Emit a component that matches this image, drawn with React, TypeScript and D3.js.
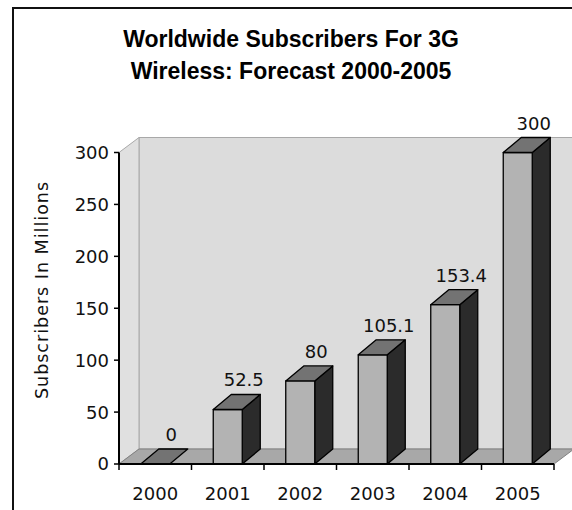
import React from "react";
import * as d3 from "d3";

const years = ["2000", "2001", "2002", "2003", "2004", "2005"];
const subscribers = [0, 52.5, 80, 105.1, 153.4, 300];
const valueLabels = ["0", "52.5", "80", "105.1", "153.4", "300"];
const yTicks = [0, 50, 100, 150, 200, 250, 300];
const titleLines = ["Worldwide Subscribers For 3G", "Wireless: Forecast 2000-2005"];
const yTitle = "Subscribers In Millions";

const W = 572;
const H = 510;

export default function App() {
  const x = d3.scaleBand<string>().domain(years).range([119, 554]).paddingInner(0).paddingOuter(0);
  const y = d3.scaleLinear().domain([0, 300]).range([464, 152.5]);

  // wall depth and bar depth offsets
  const wdx = 20, wdy = -15;
  const bdx = 18, bdy = -15;
  const barW = x.bandwidth() * 0.4;

  const x0 = x.range()[0];
  const x1 = x.range()[1];
  const yb = y(0);
  const yt = y(300);

  const poly = (pts: [number, number][]) => pts.map((p) => p.join(",")).join(" ");

  return (
    <svg width={W} height={H} style={{ position: "absolute", left: 0, top: 0, background: "#fff" }}>
      {/* outer frame */}
      <rect x={13} y={8} width={700} height={700} fill="none" stroke="#111" strokeWidth={2} />

      {/* title */}
      {titleLines.map((t, i) => (
        <text key={t} x={291} y={47 + i * 32} textAnchor="middle"
          fontFamily="Liberation Sans, Arial, sans-serif" fontWeight="bold" fontSize={23} fill="#000">
          {t}
        </text>
      ))}

      {/* back wall */}
      <polygon points={poly([[x0 + wdx, yt + wdy], [W + 10, yt + wdy], [W + 10, yb + wdy], [x0 + wdx, yb + wdy]])}
        fill="#dcdcdc" stroke="#a8a8a8" strokeWidth={1} />
      {/* side wall */}
      <polygon points={poly([[x0, yt], [x0 + wdx, yt + wdy], [x0 + wdx, yb + wdy], [x0, yb]])}
        fill="#e0e0e0" stroke="#a8a8a8" strokeWidth={1} />
      {/* floor */}
      <polygon points={poly([[x0, yb], [x1, yb], [x1 + wdx, yb + wdy], [x0 + wdx, yb + wdy]])}
        fill="#a8a8a8" stroke="#808080" strokeWidth={1} />
      <line x1={x1 + wdx} y1={yb + wdy} x2={W + 10} y2={yb + wdy} stroke="#808080" />

      {/* bars */}
      {years.map((yr, i) => {
        const v = subscribers[i];
        const cx = (x(yr) as number) + x.bandwidth() / 2;
        const l = cx - barW / 2;
        const r = cx + barW / 2;
        const top = y(v);
        return (
          <g key={yr} stroke="#000" strokeWidth={1.3} strokeLinejoin="round">
            {v > 0 && (
              <polygon points={poly([[r, top], [r + bdx, top + bdy], [r + bdx, yb + bdy], [r, yb]])} fill="#2b2b2b" />
            )}
            {v > 0 && <rect x={l} y={top} width={barW} height={yb - top} fill="#b3b3b3" />}
            <polygon points={poly([[l, top], [r, top], [r + bdx, top + bdy], [l + bdx, top + bdy]])} fill="#737373" />
          </g>
        );
      })}

      {/* value labels */}
      {years.map((yr, i) => {
        const cx = (x(yr) as number) + x.bandwidth() / 2;
        return (
          <text key={yr} x={cx + 16} y={y(subscribers[i]) + bdy - 8} textAnchor="middle"
            fontFamily="DejaVu Sans, Verdana, sans-serif" fontSize={18} fill="#111">
            {valueLabels[i]}
          </text>
        );
      })}

      {/* y axis */}
      <line x1={x0} y1={yt} x2={x0} y2={yb} stroke="#000" strokeWidth={2} />
      {yTicks.map((t) => (
        <g key={t}>
          <line x1={x0 - 5} y1={y(t)} x2={x0} y2={y(t)} stroke="#000" strokeWidth={1.5} />
          <text x={109} y={y(t)} dy="0.36em" textAnchor="end"
            fontFamily="DejaVu Sans, Verdana, sans-serif" fontSize={18} fill="#111">
            {t}
          </text>
        </g>
      ))}

      {/* x axis */}
      <line x1={x0} y1={yb} x2={x1} y2={yb} stroke="#000" strokeWidth={2} />
      {years.concat(["end"]).map((yr, i) => {
        const xx = x0 + i * x.bandwidth();
        return <line key={yr} x1={xx} y1={yb} x2={xx} y2={yb + 6} stroke="#000" strokeWidth={1.5} />;
      })}
      {years.map((yr) => (
        <text key={yr} x={(x(yr) as number) + x.bandwidth() / 2} y={500} textAnchor="middle"
          fontFamily="DejaVu Sans, Verdana, sans-serif" fontSize={18} fill="#111">
          {yr}
        </text>
      ))}

      {/* y axis title */}
      <text transform={`translate(48,${290}) rotate(-90)`} textAnchor="middle"
        fontFamily="DejaVu Sans, Verdana, sans-serif" fontSize={17.5} letterSpacing={1} fill="#111">
        {yTitle}
      </text>
    </svg>
  );
}
